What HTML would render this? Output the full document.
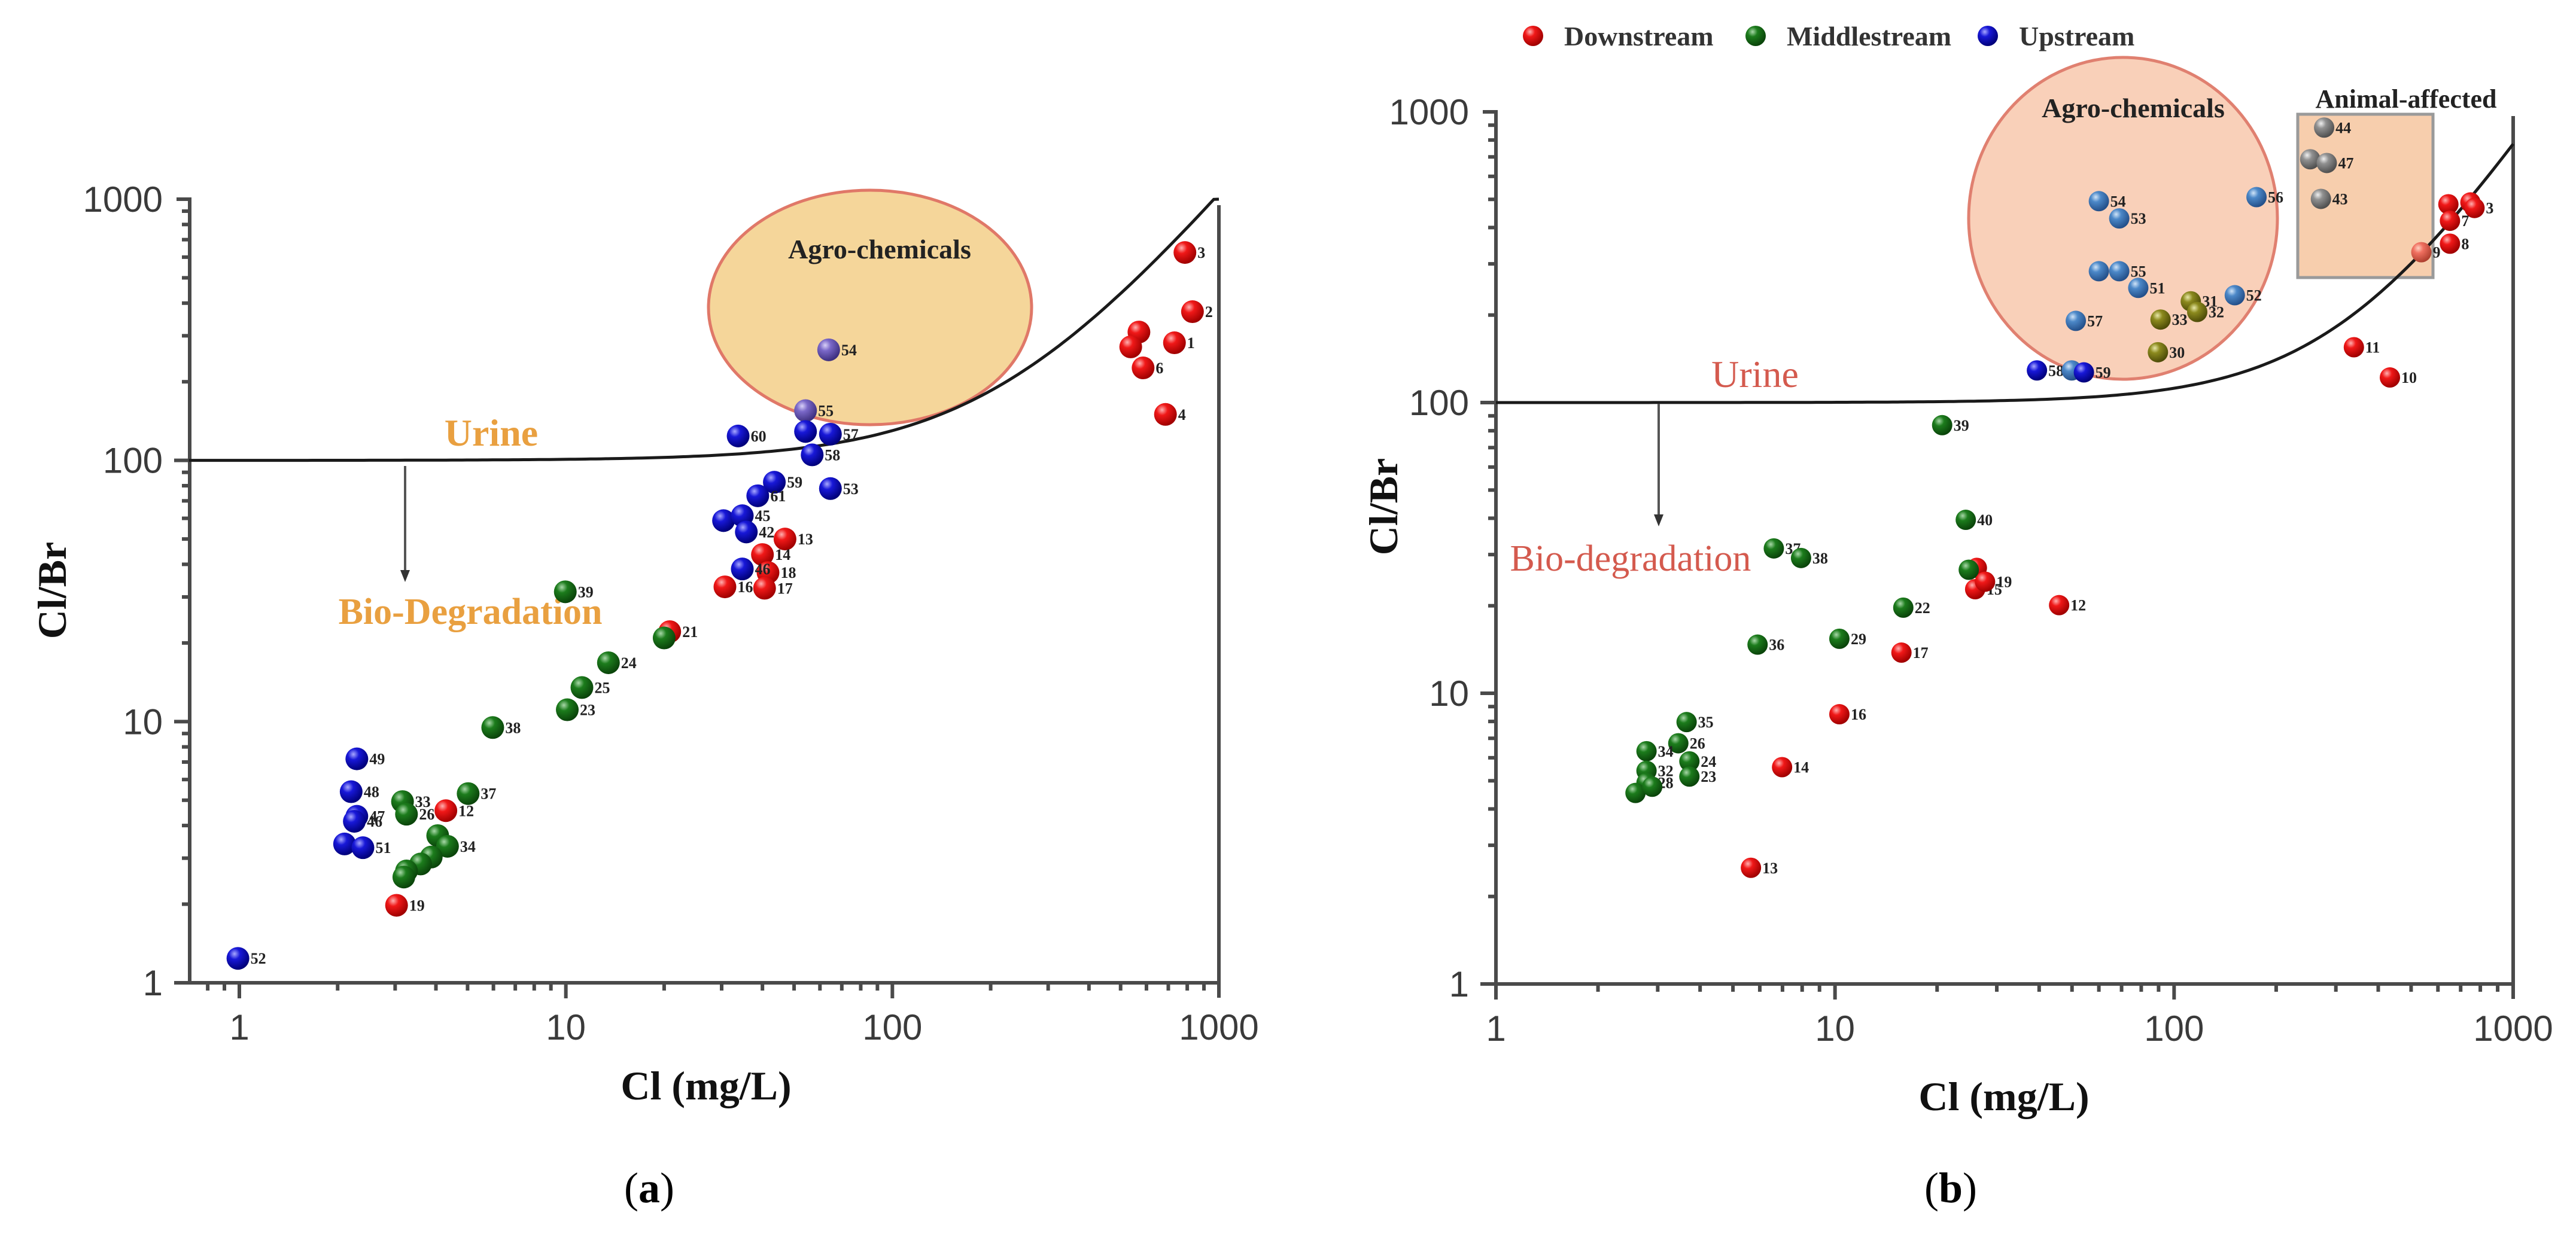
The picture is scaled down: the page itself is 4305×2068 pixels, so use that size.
<!DOCTYPE html>
<html><head><meta charset="utf-8">
<style>
html,body{margin:0;padding:0;background:#fff;}
svg{display:block;}
</style></head>
<body>
<svg id="fig" width="4305" height="2068" viewBox="0 0 4305 2068" xmlns="http://www.w3.org/2000/svg">
<defs>
<radialGradient id="g-red" cx="35%" cy="30%" r="70%"><stop offset="0" stop-color="#ffb0b0"/><stop offset="0.35" stop-color="#f01818"/><stop offset="1" stop-color="#a00000"/></radialGradient>
<radialGradient id="g-green" cx="35%" cy="30%" r="70%"><stop offset="0" stop-color="#a8d8a8"/><stop offset="0.35" stop-color="#1c7c1c"/><stop offset="1" stop-color="#0a440a"/></radialGradient>
<radialGradient id="g-blue" cx="35%" cy="30%" r="70%"><stop offset="0" stop-color="#a8a8ff"/><stop offset="0.35" stop-color="#1818d8"/><stop offset="1" stop-color="#00007a"/></radialGradient>
<radialGradient id="g-steel" cx="35%" cy="30%" r="70%"><stop offset="0" stop-color="#d0e4f8"/><stop offset="0.35" stop-color="#4c88c8"/><stop offset="1" stop-color="#24508a"/></radialGradient>
<radialGradient id="g-purple" cx="35%" cy="30%" r="70%"><stop offset="0" stop-color="#d8d0f8"/><stop offset="0.35" stop-color="#7a68c8"/><stop offset="1" stop-color="#3e3080"/></radialGradient>
<radialGradient id="g-olive" cx="35%" cy="30%" r="70%"><stop offset="0" stop-color="#e8e8a8"/><stop offset="0.35" stop-color="#8c8a1e"/><stop offset="1" stop-color="#4e4c08"/></radialGradient>
<radialGradient id="g-gray" cx="35%" cy="30%" r="70%"><stop offset="0" stop-color="#f0f0f0"/><stop offset="0.35" stop-color="#909090"/><stop offset="1" stop-color="#505050"/></radialGradient>
<radialGradient id="g-salmon" cx="35%" cy="30%" r="70%"><stop offset="0" stop-color="#ffd0c0"/><stop offset="0.35" stop-color="#f07060"/><stop offset="1" stop-color="#b04030"/></radialGradient>
</defs>
<g id="chartA"></g>
<g id="chartB"></g>
</svg>
<script>
// ---------- Chart (a) data ----------
const aCl  = [787,830,569,537,731,586,686,46.9,40,41.6,30.7,40.6,20.8,4.29,3.03,
              9.96,20,13.5,11.2,10.1,5.97,5.02,3.16,3.25,4.05,4.34,3.87,3.59,3.25,3.19,
              63.8,54.2,33.7,54.2,64.6,56.8,43.5,38.7,64.6,30.4,34.7,35.7,34.7,2.29,2.20,2.29,2.25,2.10,2.39,0.99];
const aRatio = [625,371,310,272,282,226,150,50,43.6,37.2,32.8,32.4,22.1,4.56,1.98,
              31.4,20.9,16.8,13.5,11.1,9.49,5.30,4.94,4.42,3.66,3.33,3.03,2.85,2.68,2.54,
              265,155,124,129,126,105,82.5,73.2,78,58.8,61.4,53.2,38.4,7.2,5.39,4.34,4.15,3.40,3.29,1.24];
const aGroup = ['red','red','red','red','red','red','red','red','red','red','red','red','red','red','red',
              'green','green','green','green','green','green','green','green','green','green','green','green','green','green','green',
              'purple','purple','blue','blue','blue','blue','blue','blue','blue','blue','blue','blue','blue','blue','blue','blue','blue','blue','blue','blue'];
const aLabel = ['3','2','','','1','6','4','13','14','18','16','17','21','12','19',
              '39','','24','25','23','38','37','33','26','','34','','','','',
              '54','55','60','','57','58','59','61','53','','45','42','46','49','48','47','46','','51','52'];
// ---------- Chart (b) data ----------
const bCl  = [644,748,769,651,651,536,339,433,45.8,26.2,25.9,27.7,15.7,10.3,6.98,5.65,
              20.7,24.3,24.8,6.6,7.94,15.9,10.3,5.91,3.65,3.45,2.78,3.72,2.78,3.72,2.78,2.58,2.89,
              91.2,112,117,89.6,
              60,68.9,175,60,68.9,78.4,151,51.3,39.4,49.9,54.2,
              277,252,282,271];
const bRatio = [481,488,467,422,352,329,155,122,20.1,27,22.8,24.2,13.8,8.47,5.57,2.51,
              83.6,39.5,26.6,31.5,29.2,19.7,15.4,14.7,7.96,6.73,6.32,5.83,5.41,5.17,4.92,4.54,4.77,
              193,223,205,149,
              493,430,509,283,283,248,234,191,129,129,127,
              883,687,667,502];
const bGroup = ['red','red','red','red','red','salmon','red','red','red','red','red','red','red','red','red','red',
              'green','green','green','green','green','green','green','green','green','green','green','green','green','green','green','green','green',
              'olive','olive','olive','olive',
              'steel','steel','steel','steel','steel','steel','steel','steel','blue','steel','blue',
              'gray','gray','gray','gray'];
const bLabel = ['','','3','7','8','9','11','10','12','','15','19','17','16','14','13',
              '39','40','','37','38','22','29','36','35','26','34','24','32','23','28','','',
              '33','31','32','30',
              '54','53','56','','55','51','52','57','58','','59',
              '44','','47','43'];
// Legend entries
const legendNames = ['Downstream','Middlestream','Upstream'];
const legendGroups = ['red','green','blue'];
// Urine mixing-curve parameters (ratio = 100 + k*Cl^n)
const curveA = {k:0.03, n:1.5};
const curveB = {k:0.0038, n:1.75};

const NS='http://www.w3.org/2000/svg';
function mk(parent,tag,attrs,text){
  const e=document.createElementNS(NS,tag);
  for(const k in attrs) e.setAttribute(k,attrs[k]);
  if(text!==undefined) e.textContent=text;
  parent.appendChild(e);
  return e;
}

function drawChart(root, cfg, cl, ratio, group, label, curve){
  const lg=Math.log10;
  const X=v=>cfg.x1+(lg(v)-0)*(cfg.x1000-cfg.x1)/3;
  const Y=v=>cfg.y1-(lg(v))*(cfg.y1-cfg.y1000)/3;
  const axisCol='#4a4a4a';

  const ell=mk(root,'ellipse',{cx:cfg.ell.cx,cy:cfg.ell.cy,rx:cfg.ell.rx,ry:cfg.ell.ry,fill:cfg.ell.fill,'fill-opacity':cfg.ell.op,stroke:cfg.ell.stroke,'stroke-width':5});
  
  
  const et=mk(root,'text',{x:cfg.ell.tx,y:cfg.ell.ty,'font-family':'Liberation Serif, serif','font-weight':'bold','font-size':46,'text-anchor':'middle',fill:'#222'},'Agro-chemicals');
  
  
  if(cfg.rect){
    const r=mk(root,'rect',{x:cfg.rect.x,y:cfg.rect.y,width:cfg.rect.w,height:cfg.rect.h,fill:'#f3b98a','fill-opacity':0.7,stroke:'#9a9a9a','stroke-width':5});
    
    
    const rt=mk(root,'text',{x:cfg.rect.tx,y:cfg.rect.ty,'font-family':'Liberation Serif, serif','font-weight':'bold','font-size':44,'text-anchor':'middle',fill:'#222'},'Animal-affected');
    
    
  }

  const ax=mk(root,'path',{d:`M${cfg.xl},${cfg.y1} H${cfg.x1000} M${cfg.yx},${cfg.y1} V${cfg.y1000} h-22 M${cfg.x1000},${cfg.rtop} V${cfg.y1+25}`,stroke:axisCol,'stroke-width':6,fill:'none'});
  
  
  const ticks=mk(root,'g',{stroke:axisCol,'stroke-width':6});
  
  
  for(let d=-1;d<3;d++){
    for(let m=1;m<10;m++){
      const v=m*Math.pow(10,d);
      const xx=X(v);
      if(xx>=cfg.xl-1 && xx<=cfg.x1000+1){
        const L=(m===1)?26:13;
        mk(ticks,'line',{x1:xx,y1:cfg.y1,x2:xx,y2:cfg.y1+L});
      }
      if(d>=0){
        const yy=Y(v);
        const L=(m===1)?26:13;
        mk(ticks,'line',{x1:cfg.yx,y1:yy,x2:cfg.yx-L,y2:yy});
      }
    }
  }
  const tickVals=['1','10','100','1000'];
  tickVals.forEach(t=>{
    const v=+t;
    const tx=mk(root,'text',{x:X(v),y:cfg.y1+95,'font-family':'Liberation Sans, sans-serif','font-size':60,'text-anchor':'middle',fill:'#3a3a3a'},t);
    
    
    const ty=mk(root,'text',{x:cfg.yx-45,y:Y(v)+21,'font-family':'Liberation Sans, sans-serif','font-size':60,'text-anchor':'end',fill:'#3a3a3a'},t);
    
    
  });
  const xt=mk(root,'text',{x:cfg.xtx,y:cfg.xty,'font-family':'Liberation Serif, serif','font-weight':'bold','font-size':68,'text-anchor':'middle',fill:'#111'},'Cl (mg/L)');
  
  
  const yt=mk(root,'text',{x:0,y:0,transform:`translate(${cfg.ytx},${cfg.yty}) rotate(-90)`,'font-family':'Liberation Serif, serif','font-weight':'bold','font-size':68,'text-anchor':'middle',fill:'#111'},'Cl/Br');
  
  
  const pl=mk(root,'text',{x:cfg.plx,y:cfg.ply,'font-family':'Liberation Serif, serif','font-size':72,'text-anchor':'middle',fill:'#000'},'');
  pl.innerHTML='(<tspan font-weight="bold">'+cfg.panel+'</tspan>)';
  
  

  let dpath='';
  const lx0=Math.log10(cfg.curveStart);
  for(let i=0;i<=200;i++){
    const c=Math.pow(10,lx0+(3-lx0)*i/200);
    const r=100+curve.k*Math.pow(c,curve.n);
    dpath+=(i?'L':'M')+X(c).toFixed(1)+','+Y(Math.min(r,1000)).toFixed(1);
  }
  const cp=mk(root,'path',{d:dpath,stroke:'#1a1a1a','stroke-width':5,fill:'none'});
  
  

  const ut=mk(root,'text',{x:cfg.urine.x,y:cfg.urine.y,'font-family':'Liberation Serif, serif','font-weight':cfg.urine.w,'font-size':64,'text-anchor':'middle',fill:cfg.urine.c},'Urine');
  
  
  const bt=mk(root,'text',{x:cfg.bio.x,y:cfg.bio.y,'font-family':'Liberation Serif, serif','font-weight':cfg.urine.w,'font-size':62,'text-anchor':'middle',fill:cfg.urine.c},cfg.bio.t);
  
  
  const ar=mk(root,'path',{d:`M${cfg.arrow.x},${cfg.arrow.y0} V${cfg.arrow.y1-16}`,stroke:'#555','stroke-width':4,fill:'none'});
  
  
  const ah=mk(root,'path',{d:`M${cfg.arrow.x-8},${cfg.arrow.y1-20} L${cfg.arrow.x+8},${cfg.arrow.y1-20} L${cfg.arrow.x},${cfg.arrow.y1} Z`,fill:'#333'});
  
  

  const pg=mk(root,'g',{});
  
  
  for(let i=0;i<cl.length;i++){
    const cx=X(cl[i]), cy=Y(ratio[i]);
    const c=mk(pg,'circle',{cx:cx,cy:cy,r:cfg.r,fill:`url(#g-${group[i]})`});
    
    
    if(label[i]){
      const t=mk(pg,'text',{x:cx+cfg.r+2,y:cy+9,'font-family':'Liberation Serif, serif','font-weight':'bold','font-size':26,fill:'#222'},label[i]);
      
      
    }
  }
}

const cfgA={x1:400,x1000:2037,y1:1643,y1000:333,xl:317,yx:317,rtop:343,r:19,
  ell:{cx:1454,cy:514,rx:270,ry:196,fill:'#f2c878',op:0.75,stroke:'#e07868',tx:1470,ty:432},
  xtx:1180,xty:1838,ytx:110,yty:987,plx:1085,ply:2010,panel:'a',curveStart:0.7,
  urine:{x:821,y:745,w:'bold',c:'#e9a040'},bio:{x:786,y:1043,t:'Bio-Degradation'},
  arrow:{x:677,y0:779,y1:973}};
const cfgB={x1:2500,x1000:4200,y1:1645,y1000:187,xl:2500,yx:2500,rtop:194,r:17,
  ell:{cx:3548,cy:365,rx:258,ry:269,fill:'#f7c4a8',op:0.8,stroke:'#e08070',tx:3565,ty:196},
  rect:{x:3840,y:191,w:226,h:273,tx:4021,ty:180},
  xtx:3349,xty:1856,ytx:2335,yty:847,plx:3260,ply:2010,panel:'b',curveStart:1,
  urine:{x:2933,y:647,w:'normal',c:'#d45a4e'},bio:{x:2725,y:954,t:'Bio-degradation'},
  arrow:{x:2772,y0:675,y1:880}};

drawChart(document.getElementById('chartA'),cfgA,aCl,aRatio,aGroup,aLabel,curveA);
drawChart(document.getElementById('chartB'),cfgB,bCl,bRatio,bGroup,bLabel,curveB);

const leg=document.createElementNS(NS,'g');


document.getElementById('fig').appendChild(leg);
const legDotX=[2562,2934,3322];
legendNames.forEach((n,i)=>{
  const c=mk(leg,'circle',{cx:legDotX[i],cy:60,r:17,fill:`url(#g-${legendGroups[i]})`});
  
  
  const t=mk(leg,'text',{x:legDotX[i]+52,y:76,'font-family':'Liberation Serif, serif','font-weight':'bold','font-size':46,fill:'#333'},n);
  
  
});
</script>
</body></html>
